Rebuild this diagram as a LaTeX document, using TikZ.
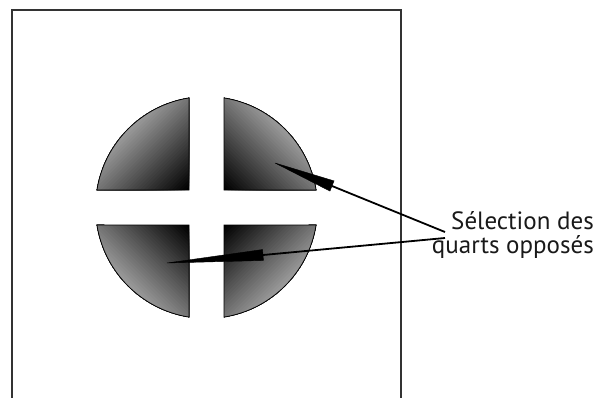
\documentclass[tikz,border=0pt]{standalone}
\usepackage{fontspec}
\setmainfont{PT Sans}
\usetikzlibrary{calc}
\newcommand\quartershade[2]{%
  \begin{scope}[shift={#1}, rotate=#2]
    \foreach \k in {0,...,44} {
      \pgfmathsetmacro\qc{max(100-0.72*\k*2.5,0)}
      \fill[black!\qc] (-130,\k*2.5) rectangle (130,140);
    }
  \end{scope}}
\def\pathTL{(-17.5,17.5) -- (170.93:111) arc[start angle=170.93, end angle=99.07, radius=111] -- cycle}
\def\pathTR{(17.5,17.5) -- (80.93:111) arc[start angle=80.93, end angle=9.07, radius=111] -- cycle}
\def\pathBR{(17.5,-17.5) -- (-9.07:111) arc[start angle=-9.07, end angle=-80.93, radius=111] -- cycle}
\def\pathBL{(-17.5,-17.5) -- (-99.07:111) arc[start angle=-99.07, end angle=-170.93, radius=111] -- cycle}
\tikzset{
  quarterline/.style={draw=black, line width=0.8bp},
  lbl/.style={font=\fontsize{25bp}{24bp}\selectfont, text=black!90, inner sep=0pt, anchor=base east},
  pointer/.style={draw=black, line width=1.8bp},
  needle/.style={fill=black, draw=black, line width=0.4bp},
  frame/.style={draw=black!80, line width=1.3bp}
}
\begin{document}
\begin{tikzpicture}[x=1bp,y=1bp]
\useasboundingbox (0,0) rectangle (602,397);
\clip (0,0) rectangle (602,397);
% frame
\draw[frame] (12,-5) -- (12,387) -- (401,387) -- (401,-5);
% quarters
\begin{scope}[shift={(206.5,189.5)}]
  \begin{scope}\clip \pathTL; \quartershade{(-17.5,17.5)}{45}\end{scope}
  \begin{scope}\clip \pathTR; \quartershade{(17.5,17.5)}{-45}\end{scope}
  \begin{scope}\clip \pathBR; \quartershade{(17.5,-17.5)}{-135}\end{scope}
  \begin{scope}\clip \pathBL; \quartershade{(-17.5,-17.5)}{135}\end{scope}
  \draw[quarterline] \pathTL;
  \draw[quarterline] \pathTR;
  \draw[quarterline] \pathBR;
  \draw[quarterline] \pathBL;
\end{scope}
% label
\node[lbl] (l1) at (594,168) {Sélection des};
\node[lbl] (l2) at (594,144) {quarts opposés};
% pointer coordinates
\coordinate (ua) at (445,165);
\coordinate (ub) at (332,211);
\coordinate (ut) at (275,234);
\coordinate (la) at (445,159);
\coordinate (lb) at (263,142);
\coordinate (lt) at (167,134);
% pointers
\draw[pointer] (ua) -- (ub);
\filldraw[needle] (ut) -- ($(ub)!5.5bp!90:(ut)$) -- ($(ub)!5.5bp!-90:(ut)$) -- cycle;
\draw[pointer] (la) -- (lb);
\filldraw[needle] (lt) -- ($(lb)!5.5bp!90:(lt)$) -- ($(lb)!5.5bp!-90:(lt)$) -- cycle;
\end{tikzpicture}
\end{document}
